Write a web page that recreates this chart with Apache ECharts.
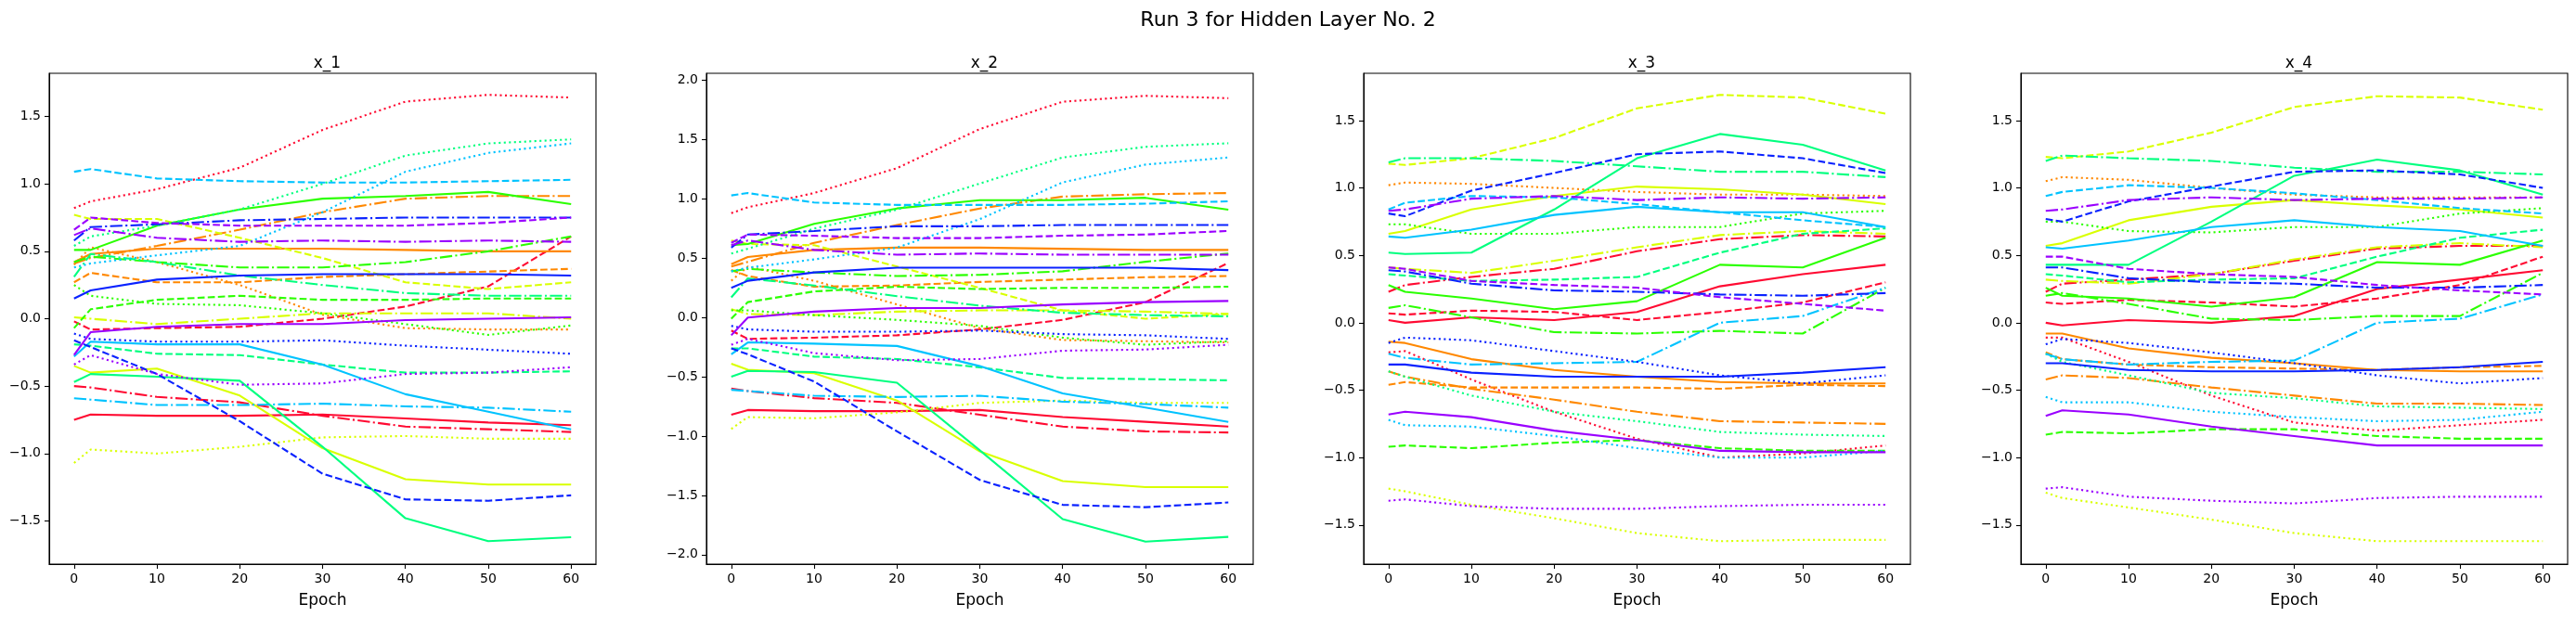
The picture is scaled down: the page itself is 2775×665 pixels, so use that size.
<!DOCTYPE html>
<html>
<head>
<meta charset="utf-8">
<script src="https://cdn.jsdelivr.net/npm/echarts@6/dist/echarts.min.js"></script>
<style>
  html, body { margin: 0; padding: 0; background: #fff; }
  #chart { width: 2775px; height: 665px; }
</style>
</head>
<body>
<div id="chart"></div>
<script>
// epochs where values were logged
var epochs = [0, 2, 10, 20, 30, 40, 50, 60];

var panelTitles = ['x_1', 'x_2', 'x_3', 'x_4'];
var xTicks = [0, 10, 20, 30, 40, 50, 60];
var yTicks = [
    [-1.5, -1, -0.5, 0, 0.5, 1, 1.5],
    [-2, -1.5, -1, -0.5, 0, 0.5, 1, 1.5, 2],
    [-1.5, -1, -0.5, 0, 0.5, 1, 1.5],
    [-1.5, -1, -0.5, 0, 0.5, 1, 1.5]
];

// one row per line, order: colour group (red..violet) x style (solid, dashed, dotted, dashdot)
var x1 = [
    [-0.75, -0.71, -0.72, -0.72, -0.71, -0.74, -0.77, -0.79],
    [-0.02, -0.08, -0.07, -0.06, 0.0, 0.09, 0.24, 0.61],
    [0.82, 0.87, 0.96, 1.12, 1.40, 1.61, 1.66, 1.64],
    [-0.50, -0.51, -0.58, -0.62, -0.72, -0.80, -0.82, -0.84],
    [0.42, 0.48, 0.52, 0.52, 0.52, 0.51, 0.50, 0.50],
    [0.27, 0.34, 0.27, 0.27, 0.31, 0.33, 0.35, 0.37],
    [0.40, 0.53, 0.42, 0.25, 0.03, -0.07, -0.08, -0.08],
    [0.41, 0.45, 0.54, 0.66, 0.79, 0.89, 0.91, 0.91],
    [-0.35, -0.40, -0.37, -0.57, -0.96, -1.19, -1.23, -1.23],
    [0.77, 0.74, 0.74, 0.60, 0.45, 0.27, 0.22, 0.27],
    [-1.07, -0.97, -1.00, -0.95, -0.88, -0.87, -0.89, -0.89],
    [0.01, 0.0, -0.04, 0.0, 0.04, 0.04, 0.04, 0.0],
    [0.51, 0.51, 0.69, 0.81, 0.89, 0.91, 0.94, 0.85],
    [-0.07, 0.07, 0.14, 0.17, 0.14, 0.14, 0.15, 0.15],
    [0.25, 0.17, 0.11, 0.10, 0.04, -0.04, -0.12, -0.05],
    [0.42, 0.46, 0.42, 0.38, 0.38, 0.42, 0.50, 0.61],
    [-0.47, -0.41, -0.43, -0.46, -0.95, -1.48, -1.65, -1.62],
    [-0.19, -0.20, -0.26, -0.27, -0.34, -0.40, -0.40, -0.39],
    [0.54, 0.61, 0.69, 0.81, 1.00, 1.21, 1.30, 1.33],
    [0.31, 0.48, 0.42, 0.32, 0.25, 0.19, 0.17, 0.17],
    [-0.28, -0.17, -0.19, -0.19, -0.34, -0.56, -0.69, -0.82],
    [1.09, 1.11, 1.04, 1.02, 1.01, 1.01, 1.02, 1.03],
    [0.38, 0.41, 0.47, 0.54, 0.79, 1.09, 1.23, 1.30],
    [-0.59, -0.60, -0.64, -0.64, -0.63, -0.65, -0.66, -0.69],
    [0.15, 0.21, 0.29, 0.32, 0.33, 0.33, 0.33, 0.32],
    [-0.16, -0.21, -0.41, -0.76, -1.15, -1.34, -1.35, -1.31],
    [-0.11, -0.15, -0.17, -0.17, -0.16, -0.20, -0.23, -0.26],
    [0.58, 0.68, 0.70, 0.73, 0.74, 0.75, 0.75, 0.75],
    [-0.27, -0.10, -0.06, -0.04, -0.04, -0.01, 0.0, 0.01],
    [0.66, 0.75, 0.71, 0.69, 0.69, 0.69, 0.71, 0.75],
    [-0.34, -0.27, -0.41, -0.49, -0.48, -0.41, -0.40, -0.36],
    [0.62, 0.67, 0.60, 0.57, 0.58, 0.57, 0.58, 0.57]
];

var x2 = [
    [-0.82, -0.78, -0.79, -0.79, -0.78, -0.84, -0.88, -0.92],
    [-0.11, -0.18, -0.17, -0.15, -0.10, -0.02, 0.13, 0.46],
    [0.88, 0.93, 1.05, 1.26, 1.59, 1.82, 1.87, 1.85],
    [-0.60, -0.62, -0.68, -0.72, -0.82, -0.92, -0.96, -0.97],
    [0.45, 0.51, 0.57, 0.59, 0.59, 0.58, 0.57, 0.57],
    [0.40, 0.35, 0.26, 0.27, 0.30, 0.32, 0.34, 0.35],
    [0.31, 0.43, 0.31, 0.11, -0.09, -0.19, -0.20, -0.21],
    [0.43, 0.47, 0.63, 0.78, 0.92, 1.02, 1.04, 1.05],
    [-0.39, -0.44, -0.47, -0.70, -1.13, -1.38, -1.43, -1.43],
    [0.65, 0.62, 0.61, 0.43, 0.25, 0.06, -0.01, 0.03],
    [-0.94, -0.84, -0.85, -0.80, -0.72, -0.70, -0.72, -0.72],
    [0.07, 0.03, 0.02, 0.05, 0.06, 0.06, 0.05, 0.03],
    [0.61, 0.62, 0.79, 0.92, 0.99, 0.99, 1.01, 0.91],
    [-0.01, 0.13, 0.22, 0.26, 0.24, 0.25, 0.25, 0.26],
    [0.06, 0.06, 0.02, -0.02, -0.07, -0.17, -0.23, -0.20],
    [0.39, 0.41, 0.38, 0.35, 0.36, 0.39, 0.47, 0.54],
    [-0.50, -0.45, -0.46, -0.55, -1.12, -1.70, -1.89, -1.85],
    [-0.26, -0.26, -0.33, -0.35, -0.42, -0.51, -0.52, -0.53],
    [0.54, 0.58, 0.75, 0.91, 1.13, 1.35, 1.44, 1.47],
    [0.17, 0.33, 0.27, 0.18, 0.10, 0.04, 0.02, 0.01],
    [-0.31, -0.21, -0.22, -0.24, -0.41, -0.64, -0.76, -0.88],
    [1.03, 1.05, 0.97, 0.95, 0.95, 0.95, 0.96, 0.98],
    [0.39, 0.42, 0.49, 0.59, 0.83, 1.14, 1.29, 1.35],
    [-0.61, -0.62, -0.66, -0.67, -0.66, -0.71, -0.73, -0.76],
    [0.25, 0.31, 0.38, 0.42, 0.42, 0.42, 0.42, 0.40],
    [-0.26, -0.31, -0.54, -0.96, -1.37, -1.58, -1.60, -1.56],
    [-0.07, -0.10, -0.12, -0.12, -0.11, -0.14, -0.15, -0.18],
    [0.59, 0.70, 0.73, 0.77, 0.77, 0.78, 0.78, 0.78],
    [-0.15, 0.0, 0.05, 0.08, 0.08, 0.11, 0.13, 0.14],
    [0.63, 0.70, 0.69, 0.67, 0.67, 0.69, 0.70, 0.73],
    [-0.23, -0.18, -0.30, -0.36, -0.35, -0.28, -0.27, -0.23],
    [0.61, 0.65, 0.57, 0.53, 0.54, 0.53, 0.53, 0.53]
];

var x3 = [
    [0.02, 0.0, 0.04, 0.02, 0.08, 0.27, 0.36, 0.43],
    [0.07, 0.06, 0.09, 0.08, 0.02, 0.08, 0.15, 0.30],
    [-0.22, -0.21, -0.42, -0.66, -0.86, -1.00, -0.97, -0.91],
    [0.23, 0.28, 0.34, 0.40, 0.53, 0.62, 0.65, 0.64],
    [-0.14, -0.15, -0.27, -0.35, -0.40, -0.44, -0.45, -0.45],
    [-0.46, -0.44, -0.48, -0.48, -0.48, -0.49, -0.46, -0.47],
    [1.02, 1.04, 1.03, 1.00, 0.97, 0.95, 0.95, 0.94],
    [-0.36, -0.40, -0.49, -0.57, -0.66, -0.73, -0.74, -0.75],
    [0.66, 0.68, 0.84, 0.94, 1.01, 0.99, 0.95, 0.88],
    [1.18, 1.17, 1.22, 1.37, 1.59, 1.69, 1.67, 1.55],
    [-1.23, -1.25, -1.35, -1.45, -1.56, -1.62, -1.61, -1.61],
    [0.41, 0.40, 0.37, 0.46, 0.56, 0.65, 0.68, 0.66],
    [0.28, 0.23, 0.18, 0.10, 0.16, 0.43, 0.41, 0.63],
    [-0.92, -0.91, -0.93, -0.89, -0.87, -0.93, -0.95, -0.95],
    [0.73, 0.73, 0.66, 0.66, 0.71, 0.71, 0.81, 0.83],
    [0.11, 0.13, 0.04, -0.07, -0.08, -0.06, -0.08, 0.26],
    [0.52, 0.51, 0.52, 0.84, 1.22, 1.40, 1.32, 1.13],
    [0.36, 0.35, 0.31, 0.32, 0.34, 0.52, 0.66, 0.70],
    [-0.36, -0.40, -0.54, -0.66, -0.73, -0.81, -0.83, -0.84],
    [1.19, 1.22, 1.22, 1.20, 1.16, 1.12, 1.12, 1.08],
    [0.64, 0.63, 0.69, 0.80, 0.86, 0.82, 0.82, 0.71],
    [0.84, 0.89, 0.94, 0.93, 0.88, 0.82, 0.76, 0.71],
    [-0.72, -0.76, -0.77, -0.84, -0.93, -1.00, -1.00, -0.95],
    [-0.23, -0.26, -0.31, -0.30, -0.29, 0.0, 0.05, 0.26],
    [-0.31, -0.31, -0.37, -0.40, -0.40, -0.40, -0.37, -0.33],
    [0.81, 0.79, 0.98, 1.11, 1.25, 1.27, 1.22, 1.11],
    [-0.15, -0.11, -0.13, -0.21, -0.29, -0.39, -0.45, -0.39],
    [0.39, 0.38, 0.29, 0.24, 0.23, 0.21, 0.20, 0.22],
    [-0.68, -0.66, -0.70, -0.80, -0.87, -0.95, -0.96, -0.96],
    [0.41, 0.40, 0.31, 0.28, 0.26, 0.19, 0.14, 0.09],
    [-1.32, -1.31, -1.36, -1.38, -1.38, -1.36, -1.35, -1.35],
    [0.83, 0.84, 0.92, 0.94, 0.91, 0.93, 0.92, 0.93]
];

var x4 = [
    [0.0, -0.02, 0.02, 0.0, 0.05, 0.25, 0.32, 0.39],
    [0.15, 0.14, 0.17, 0.15, 0.12, 0.18, 0.28, 0.49],
    [-0.11, -0.11, -0.29, -0.54, -0.74, -0.80, -0.76, -0.72],
    [0.23, 0.29, 0.32, 0.36, 0.46, 0.55, 0.57, 0.57],
    [-0.08, -0.08, -0.19, -0.26, -0.30, -0.35, -0.36, -0.36],
    [-0.22, -0.27, -0.31, -0.33, -0.34, -0.35, -0.33, -0.32],
    [1.05, 1.08, 1.06, 1.00, 0.95, 0.93, 0.93, 0.93],
    [-0.42, -0.39, -0.41, -0.48, -0.54, -0.60, -0.60, -0.61],
    [0.57, 0.59, 0.76, 0.86, 0.91, 0.87, 0.84, 0.78],
    [1.23, 1.22, 1.27, 1.41, 1.60, 1.68, 1.67, 1.58],
    [-1.26, -1.30, -1.37, -1.46, -1.56, -1.62, -1.62, -1.62],
    [0.32, 0.31, 0.29, 0.36, 0.47, 0.56, 0.59, 0.56],
    [0.26, 0.20, 0.18, 0.12, 0.19, 0.45, 0.43, 0.61],
    [-0.83, -0.81, -0.82, -0.79, -0.79, -0.84, -0.86, -0.86],
    [0.75, 0.75, 0.68, 0.67, 0.71, 0.71, 0.81, 0.85],
    [0.20, 0.22, 0.14, 0.03, 0.02, 0.05, 0.05, 0.37],
    [0.43, 0.43, 0.43, 0.75, 1.09, 1.21, 1.13, 0.95],
    [0.36, 0.35, 0.30, 0.32, 0.33, 0.49, 0.63, 0.69],
    [-0.23, -0.29, -0.39, -0.52, -0.56, -0.62, -0.63, -0.64],
    [1.20, 1.24, 1.22, 1.20, 1.15, 1.12, 1.12, 1.10],
    [0.56, 0.55, 0.61, 0.71, 0.76, 0.71, 0.68, 0.57],
    [0.94, 0.97, 1.02, 1.00, 0.96, 0.91, 0.85, 0.81],
    [-0.55, -0.59, -0.59, -0.66, -0.70, -0.73, -0.72, -0.66],
    [-0.23, -0.27, -0.31, -0.29, -0.28, 0.0, 0.03, 0.21],
    [-0.30, -0.30, -0.35, -0.36, -0.36, -0.35, -0.33, -0.29],
    [0.77, 0.75, 0.90, 1.01, 1.12, 1.13, 1.10, 1.00],
    [-0.16, -0.12, -0.15, -0.22, -0.30, -0.39, -0.45, -0.41],
    [0.41, 0.41, 0.33, 0.30, 0.29, 0.26, 0.26, 0.28],
    [-0.69, -0.65, -0.68, -0.77, -0.84, -0.91, -0.91, -0.91],
    [0.49, 0.49, 0.40, 0.36, 0.34, 0.28, 0.24, 0.21],
    [-1.23, -1.22, -1.29, -1.32, -1.34, -1.30, -1.29, -1.29],
    [0.83, 0.84, 0.91, 0.93, 0.91, 0.92, 0.92, 0.93]
];

var panels = [x1, x2, x3, x4];

// styling
var palette = ['#ff0a32', '#ff8800', '#d9ff00', '#2bff00', '#00ff7f', '#00c3ff', '#0a22ff', '#9a00ff'];
var dashes = ['solid', [7.7, 3.3], [2.1, 3.4], [13.3, 3.3, 2.1, 3.3]];
var yRanges = [[-1.82, 1.82], [-2.08, 2.06], [-1.79, 1.85], [-1.79, 1.85]];
var gridLefts = [53, 761, 1469, 2177];
var gridW = 589, gridTop = 79, gridH = 529;
var font = 'DejaVu Sans';

function fmtNum(v) {
    var s = Math.abs(v).toFixed(1);
    return v < 0 ? '\u2212' + s : s;
}

var grids = [], xAxes = [], yAxes = [], series = [];
var titles = [{
    text: 'Run 3 for Hidden Layer No. 2',
    left: 'center',
    top: 6,
    textStyle: { fontFamily: font, fontSize: 22, fontWeight: 'normal', color: '#000' }
}];

panels.forEach(function (rows, p) {
    grids.push({
        left: gridLefts[p], top: gridTop, width: gridW, height: gridH,
        show: true, borderColor: '#000', borderWidth: 1.1, backgroundColor: '#fff'
    });
    titles.push({
        text: panelTitles[p],
        left: gridLefts[p] + gridW / 2,
        top: 55,
        textAlign: 'center',
        textStyle: { fontFamily: font, fontSize: 17, fontWeight: 'normal', color: '#000' }
    });
    xAxes.push({
        type: 'value', gridIndex: p, min: -3, max: 63,
        name: 'Epoch', nameLocation: 'middle', nameGap: 31,
        nameTextStyle: { fontFamily: font, fontSize: 17, color: '#000' },
        axisLine: { onZero: false, lineStyle: { color: '#000', width: 1.1 } },
        axisTick: { show: true, length: 5, customValues: xTicks, lineStyle: { color: '#000', width: 1.1 } },
        axisLabel: { customValues: xTicks, margin: 9, fontFamily: font, fontSize: 14, color: '#000' },
        splitLine: { show: false }
    });
    yAxes.push({
        type: 'value', gridIndex: p, min: yRanges[p][0], max: yRanges[p][1],
        axisLine: { onZero: false, lineStyle: { color: '#000', width: 1.1 } },
        axisTick: { show: true, length: 5, customValues: yTicks[p], lineStyle: { color: '#000', width: 1.1 } },
        axisLabel: { customValues: yTicks[p], margin: 9, fontFamily: font, fontSize: 14, color: '#000', formatter: fmtNum },
        splitLine: { show: false }
    });
    rows.forEach(function (vals, i) {
        series.push({
            type: 'line',
            xAxisIndex: p, yAxisIndex: p,
            data: epochs.map(function (e, j) { return [e, vals[j]]; }),
            showSymbol: false,
            symbol: 'none',
            silent: true,
            lineStyle: { color: palette[Math.floor(i / 4)], width: 2.1, type: dashes[i % 4] }
        });
    });
});

var chart = echarts.init(document.getElementById('chart'), null, { renderer: 'canvas' });
chart.setOption({
    animation: false,
    backgroundColor: '#fff',
    title: titles,
    grid: grids,
    xAxis: xAxes,
    yAxis: yAxes,
    series: series
});
</script>
</body>
</html>
